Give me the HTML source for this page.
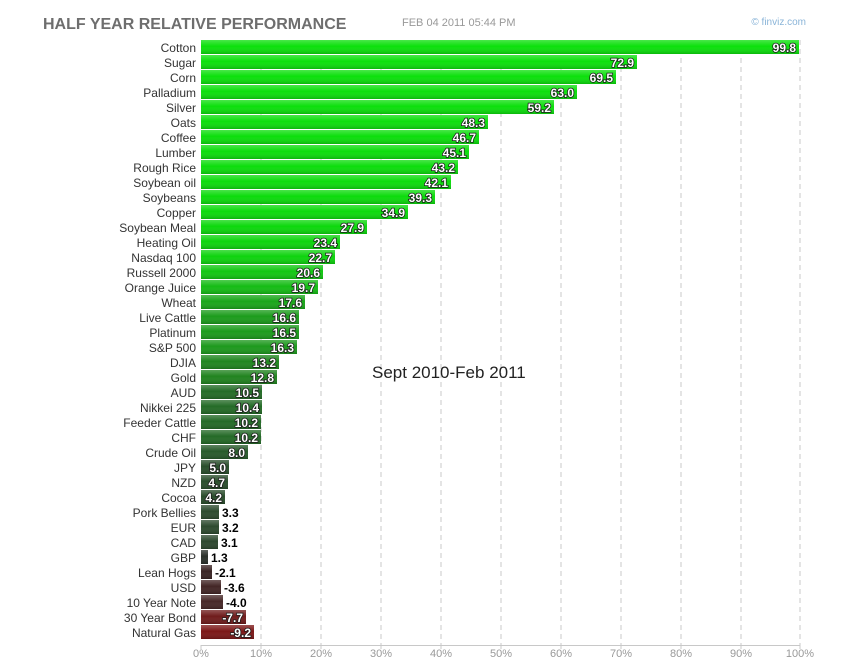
<!DOCTYPE html>
<html><head><meta charset="utf-8"><style>
body{margin:0;background:#fff;}
svg{display:block;font-family:"Liberation Sans",Arial,sans-serif;}
.l{font-size:12px;fill:#333;text-anchor:end;}
.vs{font-size:12px;font-weight:bold;fill:#fff;text-anchor:end;stroke:#1a1a1a;stroke-width:1.5px;paint-order:stroke;}
.vo{font-size:12px;font-weight:bold;fill:#000;}
.t{font-size:11px;fill:#999;text-anchor:middle;}
</style></head><body>
<svg width="850" height="670" xmlns="http://www.w3.org/2000/svg">
<defs>
<linearGradient id="sh" x1="0" y1="0" x2="0" y2="1">
<stop offset="0" stop-color="#fff" stop-opacity="0.25"/>
<stop offset="0.45" stop-color="#fff" stop-opacity="0"/>
<stop offset="1" stop-color="#000" stop-opacity="0.18"/>
</linearGradient>
</defs>
<text x="43" y="29" font-size="16" font-weight="bold" fill="#6e6e6e">HALF YEAR RELATIVE PERFORMANCE</text>
<text x="402" y="26" font-size="11" fill="#999">FEB 04 2011 05:44 PM</text>
<text x="806" y="25" font-size="10" fill="#8ab4d8" text-anchor="end">© finviz.com</text>
<g stroke="#c8c8c8" stroke-dasharray="5,4" stroke-width="1">
<line x1="261" y1="40" x2="261" y2="645"/><line x1="321" y1="40" x2="321" y2="645"/><line x1="381" y1="40" x2="381" y2="645"/><line x1="441" y1="40" x2="441" y2="645"/><line x1="501" y1="40" x2="501" y2="645"/><line x1="561" y1="40" x2="561" y2="645"/><line x1="621" y1="40" x2="621" y2="645"/><line x1="681" y1="40" x2="681" y2="645"/><line x1="741" y1="40" x2="741" y2="645"/><line x1="800" y1="40" x2="800" y2="645"/>
</g>
<line x1="201" y1="645.5" x2="800" y2="645.5" stroke="#c8c8c8"/>
<g stroke="#c8c8c8"><line x1="201" y1="645" x2="201" y2="649"/><line x1="261" y1="645" x2="261" y2="649"/><line x1="321" y1="645" x2="321" y2="649"/><line x1="381" y1="645" x2="381" y2="649"/><line x1="441" y1="645" x2="441" y2="649"/><line x1="501" y1="645" x2="501" y2="649"/><line x1="561" y1="645" x2="561" y2="649"/><line x1="621" y1="645" x2="621" y2="649"/><line x1="681" y1="645" x2="681" y2="649"/><line x1="741" y1="645" x2="741" y2="649"/><line x1="800" y1="645" x2="800" y2="649"/></g>
<g class="t"><text x="201" y="657" class="t">0%</text><text x="261" y="657" class="t">10%</text><text x="321" y="657" class="t">20%</text><text x="381" y="657" class="t">30%</text><text x="441" y="657" class="t">40%</text><text x="501" y="657" class="t">50%</text><text x="561" y="657" class="t">60%</text><text x="621" y="657" class="t">70%</text><text x="681" y="657" class="t">80%</text><text x="741" y="657" class="t">90%</text><text x="800" y="657" class="t">100%</text></g>

<rect x="201" y="40" width="598" height="14" fill="#0ce00c"/>
<rect x="201" y="55" width="436" height="14" fill="#0ce00c"/>
<rect x="201" y="70" width="415" height="14" fill="#0ce00c"/>
<rect x="201" y="85" width="376" height="14" fill="#0cdf0c"/>
<rect x="201" y="100" width="353" height="14" fill="#0cdf0c"/>
<rect x="201" y="115" width="287" height="14" fill="#0cde0c"/>
<rect x="201" y="130" width="278" height="14" fill="#0cde0c"/>
<rect x="201" y="145" width="268" height="14" fill="#0cdd0c"/>
<rect x="201" y="160" width="257" height="14" fill="#0cdd0c"/>
<rect x="201" y="175" width="250" height="14" fill="#0cdc0c"/>
<rect x="201" y="190" width="234" height="14" fill="#0cdb0c"/>
<rect x="201" y="205" width="207" height="14" fill="#0cda0c"/>
<rect x="201" y="220" width="166" height="14" fill="#0cd80c"/>
<rect x="201" y="235" width="139" height="14" fill="#0dd50d"/>
<rect x="201" y="250" width="134" height="14" fill="#0ed30e"/>
<rect x="201" y="265" width="122" height="14" fill="#12c712"/>
<rect x="201" y="280" width="117" height="14" fill="#15bc15"/>
<rect x="201" y="295" width="104" height="14" fill="#1aa61a"/>
<rect x="201" y="310" width="98" height="14" fill="#1c9c1c"/>
<rect x="201" y="325" width="98" height="14" fill="#1c9b1c"/>
<rect x="201" y="340" width="96" height="14" fill="#1d991d"/>
<rect x="201" y="355" width="78" height="14" fill="#20861f"/>
<rect x="201" y="370" width="76" height="14" fill="#21831f"/>
<rect x="201" y="385" width="61" height="14" fill="#246c27"/>
<rect x="201" y="400" width="61" height="14" fill="#246b27"/>
<rect x="201" y="415" width="60" height="14" fill="#246a27"/>
<rect x="201" y="430" width="60" height="14" fill="#246a27"/>
<rect x="201" y="445" width="47" height="14" fill="#285a2b"/>
<rect x="201" y="460" width="28" height="14" fill="#294e2b"/>
<rect x="201" y="475" width="27" height="14" fill="#294d2b"/>
<rect x="201" y="490" width="24" height="14" fill="#294c2b"/>
<rect x="201" y="505" width="18" height="14" fill="#2d4a2f"/>
<rect x="201" y="520" width="18" height="14" fill="#2d4a2f"/>
<rect x="201" y="535" width="17" height="14" fill="#2d482f"/>
<rect x="201" y="550" width="7" height="14" fill="#2a302a"/>
<rect x="201" y="565" width="11" height="14" fill="#3a2424"/>
<rect x="201" y="580" width="20" height="14" fill="#432626"/>
<rect x="201" y="595" width="22" height="14" fill="#472828"/>
<rect x="201" y="610" width="45" height="14" fill="#701c1c"/>
<rect x="201" y="625" width="53" height="14" fill="#7c1818"/>
<g fill="url(#sh)">
<rect x="201" y="40" width="598" height="14"/><rect x="201" y="55" width="436" height="14"/><rect x="201" y="70" width="415" height="14"/><rect x="201" y="85" width="376" height="14"/><rect x="201" y="100" width="353" height="14"/><rect x="201" y="115" width="287" height="14"/><rect x="201" y="130" width="278" height="14"/><rect x="201" y="145" width="268" height="14"/><rect x="201" y="160" width="257" height="14"/><rect x="201" y="175" width="250" height="14"/><rect x="201" y="190" width="234" height="14"/><rect x="201" y="205" width="207" height="14"/><rect x="201" y="220" width="166" height="14"/><rect x="201" y="235" width="139" height="14"/><rect x="201" y="250" width="134" height="14"/><rect x="201" y="265" width="122" height="14"/><rect x="201" y="280" width="117" height="14"/><rect x="201" y="295" width="104" height="14"/><rect x="201" y="310" width="98" height="14"/><rect x="201" y="325" width="98" height="14"/><rect x="201" y="340" width="96" height="14"/><rect x="201" y="355" width="78" height="14"/><rect x="201" y="370" width="76" height="14"/><rect x="201" y="385" width="61" height="14"/><rect x="201" y="400" width="61" height="14"/><rect x="201" y="415" width="60" height="14"/><rect x="201" y="430" width="60" height="14"/><rect x="201" y="445" width="47" height="14"/><rect x="201" y="460" width="28" height="14"/><rect x="201" y="475" width="27" height="14"/><rect x="201" y="490" width="24" height="14"/><rect x="201" y="505" width="18" height="14"/><rect x="201" y="520" width="18" height="14"/><rect x="201" y="535" width="17" height="14"/><rect x="201" y="550" width="7" height="14"/><rect x="201" y="565" width="11" height="14"/><rect x="201" y="580" width="20" height="14"/><rect x="201" y="595" width="22" height="14"/><rect x="201" y="610" width="45" height="14"/><rect x="201" y="625" width="53" height="14"/>
</g>

<text class="l" x="196" y="52">Cotton</text>
<text class="l" x="196" y="67">Sugar</text>
<text class="l" x="196" y="82">Corn</text>
<text class="l" x="196" y="97">Palladium</text>
<text class="l" x="196" y="112">Silver</text>
<text class="l" x="196" y="127">Oats</text>
<text class="l" x="196" y="142">Coffee</text>
<text class="l" x="196" y="157">Lumber</text>
<text class="l" x="196" y="172">Rough Rice</text>
<text class="l" x="196" y="187">Soybean oil</text>
<text class="l" x="196" y="202">Soybeans</text>
<text class="l" x="196" y="217">Copper</text>
<text class="l" x="196" y="232">Soybean Meal</text>
<text class="l" x="196" y="247">Heating Oil</text>
<text class="l" x="196" y="262">Nasdaq 100</text>
<text class="l" x="196" y="277">Russell 2000</text>
<text class="l" x="196" y="292">Orange Juice</text>
<text class="l" x="196" y="307">Wheat</text>
<text class="l" x="196" y="322">Live Cattle</text>
<text class="l" x="196" y="337">Platinum</text>
<text class="l" x="196" y="352">S&amp;P 500</text>
<text class="l" x="196" y="367">DJIA</text>
<text class="l" x="196" y="382">Gold</text>
<text class="l" x="196" y="397">AUD</text>
<text class="l" x="196" y="412">Nikkei 225</text>
<text class="l" x="196" y="427">Feeder Cattle</text>
<text class="l" x="196" y="442">CHF</text>
<text class="l" x="196" y="457">Crude Oil</text>
<text class="l" x="196" y="472">JPY</text>
<text class="l" x="196" y="487">NZD</text>
<text class="l" x="196" y="502">Cocoa</text>
<text class="l" x="196" y="517">Pork Bellies</text>
<text class="l" x="196" y="532">EUR</text>
<text class="l" x="196" y="547">CAD</text>
<text class="l" x="196" y="562">GBP</text>
<text class="l" x="196" y="577">Lean Hogs</text>
<text class="l" x="196" y="592">USD</text>
<text class="l" x="196" y="607">10 Year Note</text>
<text class="l" x="196" y="622">30 Year Bond</text>
<text class="l" x="196" y="637">Natural Gas</text>

<g class="vs">
<text class="vs" x="796" y="52">99.8</text>
<text class="vs" x="634" y="67">72.9</text>
<text class="vs" x="613" y="82">69.5</text>
<text class="vs" x="574" y="97">63.0</text>
<text class="vs" x="551" y="112">59.2</text>
<text class="vs" x="485" y="127">48.3</text>
<text class="vs" x="476" y="142">46.7</text>
<text class="vs" x="466" y="157">45.1</text>
<text class="vs" x="455" y="172">43.2</text>
<text class="vs" x="448" y="187">42.1</text>
<text class="vs" x="432" y="202">39.3</text>
<text class="vs" x="405" y="217">34.9</text>
<text class="vs" x="364" y="232">27.9</text>
<text class="vs" x="337" y="247">23.4</text>
<text class="vs" x="332" y="262">22.7</text>
<text class="vs" x="320" y="277">20.6</text>
<text class="vs" x="315" y="292">19.7</text>
<text class="vs" x="302" y="307">17.6</text>
<text class="vs" x="296" y="322">16.6</text>
<text class="vs" x="296" y="337">16.5</text>
<text class="vs" x="294" y="352">16.3</text>
<text class="vs" x="276" y="367">13.2</text>
<text class="vs" x="274" y="382">12.8</text>
<text class="vs" x="259" y="397">10.5</text>
<text class="vs" x="259" y="412">10.4</text>
<text class="vs" x="258" y="427">10.2</text>
<text class="vs" x="258" y="442">10.2</text>
<text class="vs" x="245" y="457">8.0</text>
<text class="vs" x="226" y="472">5.0</text>
<text class="vs" x="225" y="487">4.7</text>
<text class="vs" x="222" y="502">4.2</text>
<text class="vs" x="243" y="622">-7.7</text>
<text class="vs" x="251" y="637">-9.2</text>
</g>
<text class="vo" x="222" y="517">3.3</text>
<text class="vo" x="222" y="532">3.2</text>
<text class="vo" x="221" y="547">3.1</text>
<text class="vo" x="211" y="562">1.3</text>
<text class="vo" x="215" y="577">-2.1</text>
<text class="vo" x="224" y="592">-3.6</text>
<text class="vo" x="226" y="607">-4.0</text>

<text x="372" y="378" font-size="17" fill="#222">Sept 2010-Feb 2011</text>
</svg>
</body></html>
